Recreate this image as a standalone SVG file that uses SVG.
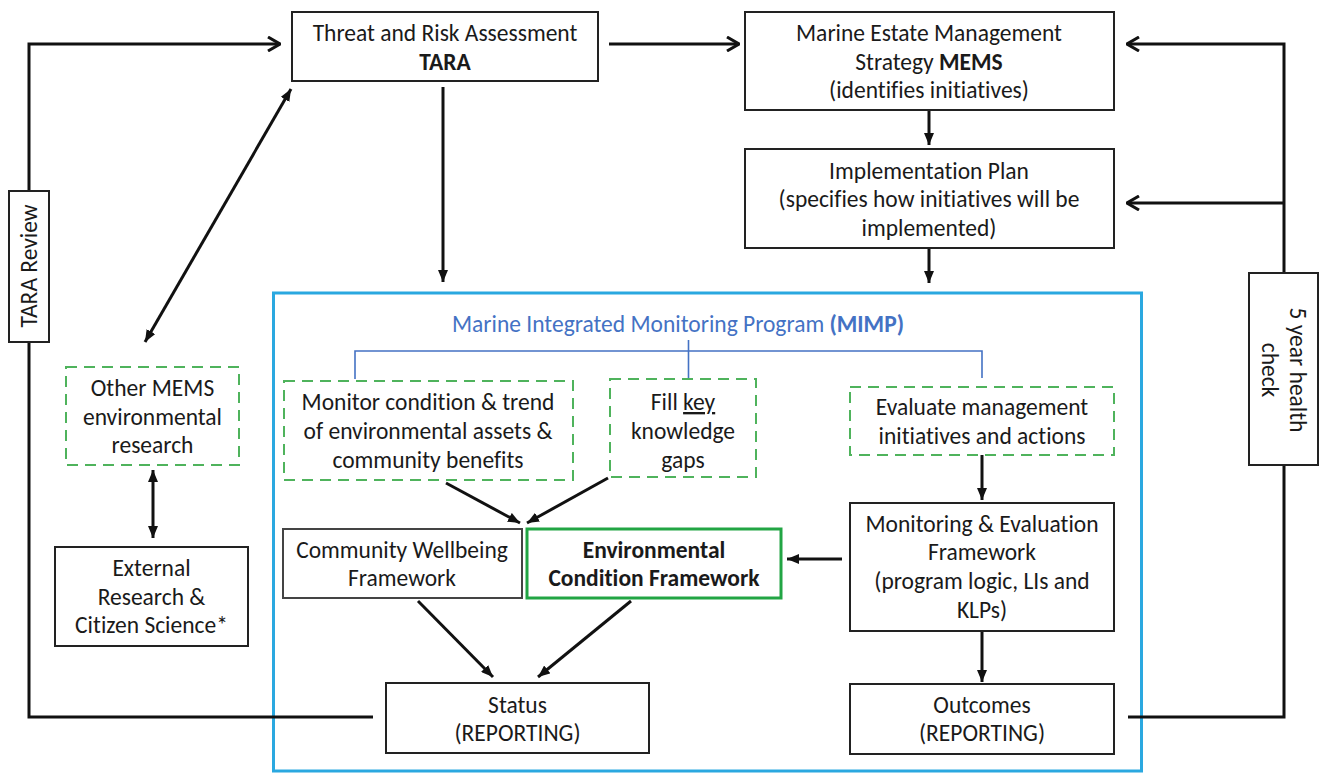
<svg xmlns="http://www.w3.org/2000/svg" width="1321" height="773" viewBox="0 0 1321 773">
<defs>
<style>
text{font-family:Carlito,Lato,"Liberation Sans",sans-serif;font-size:23.5px;fill:#1a1a1a;text-anchor:middle;font-variant-ligatures:none}
.b{font-weight:bold}
.box{fill:#fff;stroke:#222;stroke-width:2}
.dash{fill:#fff;stroke:#4fb35c;stroke-width:2;stroke-dasharray:11 7}
.env{fill:#fff;stroke:#22a544;stroke-width:3}
.con{fill:none;stroke:#111;stroke-width:3}
.fa{marker-end:url(#fill)}
.oa{marker-end:url(#open)}
.da{marker-start:url(#fill);marker-end:url(#fill)}
.blue{fill:#4472c4}
</style>
<marker id="fill" viewBox="0 0 12 10" refX="12" refY="5" markerWidth="12" markerHeight="10" markerUnits="userSpaceOnUse" orient="auto-start-reverse">
<path d="M0,0 L12,5 L0,10 z" fill="#111"/>
</marker>
<marker id="open" viewBox="0 0 14 16" refX="13" refY="8" markerWidth="14" markerHeight="16" markerUnits="userSpaceOnUse" orient="auto">
<path d="M1,1 L13,8 L1,15" fill="none" stroke="#111" stroke-width="3"/>
</marker>
</defs>
<rect width="1321" height="773" fill="#fff"/>

<g id="mimp-container">
<rect x="273.5" y="293" width="868" height="478" fill="none" stroke="#2aa8e0" stroke-width="3"/>
<text x="678" y="332" class="blue">Marine Integrated Monitoring Program <tspan class="b blue">(MIMP)</tspan></text>
<path d="M355,379 V351 H982 V378 M688.5,340 V379" fill="none" stroke="#4472c4" stroke-width="1.6"/>
</g>

<g id="connectors">
<polyline class="con oa" points="29,191 29,44 280,44"/>
<polyline class="con" points="373,717 29,717 29,342"/>
<line class="con oa" x1="609" y1="44" x2="739" y2="44"/>
<polyline class="con oa" points="1284,273 1284,44 1127,44"/>
<line class="con oa" x1="1284" y1="203" x2="1127" y2="203"/>
<polyline class="con" points="1128,717 1284,717 1284,465"/>
<line class="con fa" x1="443" y1="87" x2="443" y2="282"/>
<line class="con fa" x1="929" y1="110" x2="929" y2="145"/>
<line class="con fa" x1="929" y1="248" x2="929" y2="283"/>
<line class="con da" x1="291" y1="89" x2="145" y2="342"/>
<line class="con da" x1="153" y1="470" x2="153" y2="538"/>
<line class="con fa" x1="446" y1="483" x2="520" y2="523"/>
<line class="con fa" x1="608" y1="478" x2="527" y2="523"/>
<line class="con fa" x1="418" y1="601" x2="493" y2="677"/>
<line class="con fa" x1="631" y1="601" x2="538" y2="677"/>
<line class="con fa" x1="982" y1="455" x2="982" y2="500"/>
<line class="con fa" x1="842" y1="559" x2="787" y2="559"/>
<line class="con fa" x1="982" y1="631" x2="982" y2="682"/>
</g>

<g id="tara">
<rect class="box" x="292" y="12" width="306" height="69"/>
<text x="445" y="41">Threat and Risk Assessment</text>
<text x="445" y="70" class="b">TARA</text>
</g>

<g id="mems">
<rect class="box" x="745" y="12" width="369" height="98"/>
<text x="929" y="41">Marine Estate Management</text>
<text x="929" y="70">Strategy <tspan class="b">MEMS</tspan></text>
<text x="929" y="98">(identifies initiatives)</text>
</g>

<g id="implementation-plan">
<rect class="box" x="745" y="149" width="369" height="99"/>
<text x="929" y="179">Implementation Plan</text>
<text x="929" y="207">(specifies how initiatives will be</text>
<text x="929" y="236">implemented)</text>
</g>

<g id="tara-review">
<rect class="box" x="9" y="191" width="40" height="151"/>
<text transform="translate(29,266) rotate(-90)" y="8">TARA Review</text>
</g>

<g id="health-check">
<rect class="box" x="1249" y="273" width="69" height="192"/>
<g transform="translate(1284,370) rotate(90)">
<text y="-6">5 year health</text>
<text y="22">check</text>
</g>
</g>

<g id="other-mems">
<rect class="dash" x="66" y="367" width="173" height="98"/>
<text x="152.5" y="396">Other MEMS</text>
<text x="152.5" y="425">environmental</text>
<text x="152.5" y="453">research</text>
</g>

<g id="external-research">
<rect class="box" x="55" y="547" width="193" height="99"/>
<text x="151.5" y="576">External</text>
<text x="151.5" y="605">Research &amp;</text>
<text x="151.5" y="633">Citizen Science*</text>
</g>

<g id="monitor-condition">
<rect class="dash" x="284" y="381" width="289" height="99"/>
<text x="428" y="410">Monitor condition &amp; trend</text>
<text x="428" y="439">of environmental assets &amp;</text>
<text x="428" y="468">community benefits</text>
</g>

<g id="fill-gaps">
<rect class="dash" x="610" y="379" width="146" height="98"/>
<text x="683" y="410">Fill <tspan text-decoration="underline">key</tspan></text>
<text x="683" y="439">knowledge</text>
<text x="683" y="468">gaps</text>
</g>

<g id="evaluate">
<rect class="dash" x="850" y="387" width="264" height="68"/>
<text x="982" y="415">Evaluate management</text>
<text x="982" y="444">initiatives and actions</text>
</g>

<g id="community-wellbeing">
<rect class="box" x="283" y="529" width="239" height="69" style="stroke:#444"/>
<text x="402" y="558">Community Wellbeing</text>
<text x="402" y="586">Framework</text>
</g>

<g id="environmental-condition">
<rect class="env" x="527" y="529" width="254" height="69"/>
<text x="654" y="558" class="b">Environmental</text>
<text x="654" y="586" class="b">Condition Framework</text>
</g>

<g id="me-framework">
<rect class="box" x="850" y="503" width="264" height="128"/>
<text x="982" y="532">Monitoring &amp; Evaluation</text>
<text x="982" y="560">Framework</text>
<text x="982" y="589">(program logic, LIs and</text>
<text x="982" y="618">KLPs)</text>
</g>

<g id="status">
<rect class="box" x="386" y="683" width="263" height="70"/>
<text x="517.5" y="713">Status</text>
<text x="517.5" y="741">(REPORTING)</text>
</g>

<g id="outcomes">
<rect class="box" x="850" y="684" width="264" height="70"/>
<text x="982" y="713">Outcomes</text>
<text x="982" y="741">(REPORTING)</text>
</g>
</svg>
